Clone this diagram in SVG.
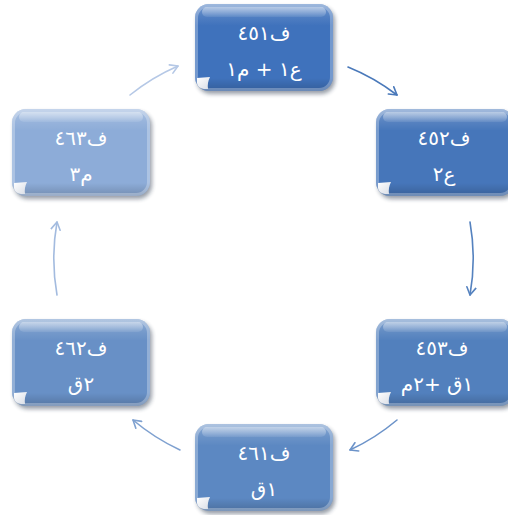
<svg xmlns="http://www.w3.org/2000/svg" width="508" height="515" viewBox="0 0 508 515">
<style>
.shadow{fill:#1a2a40;opacity:.45;filter:url(#blur)}
.gloss{fill:url(#gloss)}
.rim{fill:none;stroke:#ffffff;stroke-opacity:.28;stroke-width:3}
.band{fill:url(#band)}
.curl{fill:url(#curl)}
.t{font-family:"DejaVu Sans","Noto Sans",sans-serif;font-size:20px;fill:#ffffff;text-anchor:middle;direction:ltr;unicode-bidi:bidi-override}
.conn{fill:none;stroke-width:1.6;stroke-linecap:round}
</style>
<defs>
<filter id="blur" x="-20%" y="-20%" width="140%" height="140%"><feGaussianBlur stdDeviation="2"/></filter>
<linearGradient id="gloss" x1="0" y1="0" x2="0" y2="1">
<stop offset="0" stop-color="#fff" stop-opacity=".3"/>
<stop offset=".14" stop-color="#fff" stop-opacity=".1"/>
<stop offset=".25" stop-color="#fff" stop-opacity="0"/>
<stop offset=".85" stop-color="#000" stop-opacity="0"/>
<stop offset="1" stop-color="#000" stop-opacity=".18"/>
</linearGradient>
<linearGradient id="band" x1="0" y1="0" x2="0" y2="1">
<stop offset="0" stop-color="#fff" stop-opacity=".5"/>
<stop offset="1" stop-color="#fff" stop-opacity=".08"/>
</linearGradient>
<linearGradient id="curl" x1="0" y1="0" x2="1" y2="1">
<stop offset="0" stop-color="#ffffff"/>
<stop offset="1" stop-color="#d8dde6"/>
</linearGradient>
<marker id="m1" markerWidth="11" markerHeight="11" refX="8.5" refY="5.5" orient="auto" markerUnits="userSpaceOnUse"><path d="M1,1 L8.5,5.5 L1,10" fill="none" stroke="#4a79ba" stroke-width="1.6" stroke-linecap="round" stroke-linejoin="round"/></marker>
<marker id="m2" markerWidth="11" markerHeight="11" refX="8.5" refY="5.5" orient="auto" markerUnits="userSpaceOnUse"><path d="M1,1 L8.5,5.5 L1,10" fill="none" stroke="#5582bf" stroke-width="1.6" stroke-linecap="round" stroke-linejoin="round"/></marker>
<marker id="m3" markerWidth="11" markerHeight="11" refX="8.5" refY="5.5" orient="auto" markerUnits="userSpaceOnUse"><path d="M1,1 L8.5,5.5 L1,10" fill="none" stroke="#6c93c9" stroke-width="1.6" stroke-linecap="round" stroke-linejoin="round"/></marker>
<marker id="m4" markerWidth="11" markerHeight="11" refX="8.5" refY="5.5" orient="auto" markerUnits="userSpaceOnUse"><path d="M1,1 L8.5,5.5 L1,10" fill="none" stroke="#7fa1d0" stroke-width="1.6" stroke-linecap="round" stroke-linejoin="round"/></marker>
<marker id="m5" markerWidth="11" markerHeight="11" refX="8.5" refY="5.5" orient="auto" markerUnits="userSpaceOnUse"><path d="M1,1 L8.5,5.5 L1,10" fill="none" stroke="#a3bbdf" stroke-width="1.6" stroke-linecap="round" stroke-linejoin="round"/></marker>
<marker id="m6" markerWidth="11" markerHeight="11" refX="8.5" refY="5.5" orient="auto" markerUnits="userSpaceOnUse"><path d="M1,1 L8.5,5.5 L1,10" fill="none" stroke="#b5c8e6" stroke-width="1.6" stroke-linecap="round" stroke-linejoin="round"/></marker>
</defs>
<rect width="508" height="515" fill="#ffffff"/>

<g id="connectors">
<path class="conn" stroke="#4a79ba" marker-end="url(#m1)" d="M348,67 A210,210 0 0 1 397,95"/>
<path class="conn" stroke="#5582bf" marker-end="url(#m2)" d="M470,222 A210,210 0 0 1 470,295"/>
<path class="conn" stroke="#6c93c9" marker-end="url(#m3)" d="M397,420 A210,210 0 0 1 350,450"/>
<path class="conn" stroke="#7fa1d0" marker-end="url(#m4)" d="M180,450 A210,210 0 0 1 133,420"/>
<path class="conn" stroke="#a3bbdf" marker-end="url(#m5)" d="M57,295 A210,210 0 0 1 57,222"/>
<path class="conn" stroke="#b5c8e6" marker-end="url(#m6)" d="M130,95 A210,210 0 0 1 178,66"/>
</g>

<g id="n1">
<rect class="shadow" x="197" y="7" width="138" height="87" rx="14"/>
<rect x="195" y="4" width="138" height="87" rx="14" fill="#3f72bc"/>
<rect class="gloss" x="195" y="4" width="138" height="87" rx="14"/>
<rect class="rim" x="196.5" y="5.5" width="135" height="84" rx="12.5"/>
<rect class="band" x="202" y="7" width="124" height="10" rx="5"/>
<path class="curl" d="M197,78 L210,77 Q207,83 208,89 L204,89 Q197.5,88 197,83 Z"/>
<text class="t" x="264" y="40">٤٥١ف</text>
<text class="t" x="264" y="76">١م + ١ع</text>
</g>

<g id="n2">
<rect class="shadow" x="378" y="112" width="138" height="87" rx="14"/>
<rect x="376" y="109" width="138" height="87" rx="14" fill="#4676ba"/>
<rect class="gloss" x="376" y="109" width="138" height="87" rx="14"/>
<rect class="rim" x="377.5" y="110.5" width="135" height="84" rx="12.5"/>
<rect class="band" x="383" y="112" width="124" height="10" rx="5"/>
<path class="curl" d="M378,183 L391,182 Q388,188 389,194 L385,194 Q378.5,193 378,188 Z"/>
<text class="t" x="444" y="145">٤٥٢ف</text>
<text class="t" x="444" y="181">٢ع</text>
</g>

<g id="n3">
<rect class="shadow" x="378" y="322" width="138" height="87" rx="14"/>
<rect x="376" y="319" width="138" height="87" rx="14" fill="#5280bd"/>
<rect class="gloss" x="376" y="319" width="138" height="87" rx="14"/>
<rect class="rim" x="377.5" y="320.5" width="135" height="84" rx="12.5"/>
<rect class="band" x="383" y="322" width="124" height="10" rx="5"/>
<path class="curl" d="M378,393 L391,392 Q388,398 389,404 L385,404 Q378.5,403 378,398 Z"/>
<text class="t" x="442" y="355">٤٥٣ف</text>
<text class="t" x="437" y="391">م٢+ ق١</text>
</g>

<g id="n4">
<rect class="shadow" x="197" y="427" width="138" height="87" rx="14"/>
<rect x="195" y="424" width="138" height="87" rx="14" fill="#5c88c2"/>
<rect class="gloss" x="195" y="424" width="138" height="87" rx="14"/>
<rect class="rim" x="196.5" y="425.5" width="135" height="84" rx="12.5"/>
<rect class="band" x="202" y="427" width="124" height="10" rx="5"/>
<path class="curl" d="M197,498 L210,497 Q207,503 208,509 L204,509 Q197.5,508 197,503 Z"/>
<text class="t" x="264" y="460">٤٦١ف</text>
<text class="t" x="264" y="496">ق١</text>
</g>

<g id="n5">
<rect class="shadow" x="14" y="322" width="138" height="87" rx="14"/>
<rect x="12" y="319" width="138" height="87" rx="14" fill="#6890c6"/>
<rect class="gloss" x="12" y="319" width="138" height="87" rx="14"/>
<rect class="rim" x="13.5" y="320.5" width="135" height="84" rx="12.5"/>
<rect class="band" x="19" y="322" width="124" height="10" rx="5"/>
<path class="curl" d="M14,393 L27,392 Q24,398 25,404 L21,404 Q14.5,403 14,398 Z"/>
<text class="t" x="81" y="355">٤٦٢ف</text>
<text class="t" x="81" y="391">ق٢</text>
</g>

<g id="n6">
<rect class="shadow" x="14" y="112" width="138" height="87" rx="14"/>
<rect x="12" y="109" width="138" height="87" rx="14" fill="#8dacd8"/>
<rect class="gloss" x="12" y="109" width="138" height="87" rx="14"/>
<rect class="rim" x="13.5" y="110.5" width="135" height="84" rx="12.5"/>
<rect class="band" x="19" y="112" width="124" height="10" rx="5"/>
<path class="curl" d="M14,183 L27,182 Q24,188 25,194 L21,194 Q14.5,193 14,188 Z"/>
<text class="t" x="81" y="145">٤٦٣ف</text>
<text class="t" x="81" y="181">٣م</text>
</g>
</svg>
